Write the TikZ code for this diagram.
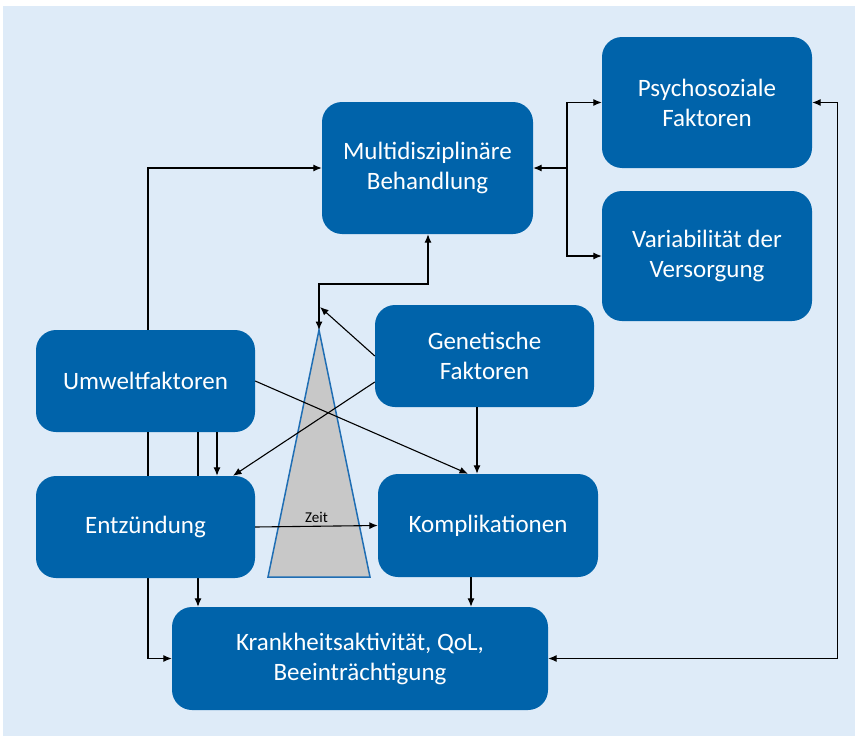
\documentclass[tikz,border=0pt]{standalone}
\usepackage{fontspec}
\setmainfont{Carlito}
\usetikzlibrary{arrows.meta}
\definecolor{bgblue}{RGB}{222,235,248}
\definecolor{boxblue}{RGB}{0,99,170}
\definecolor{edgeblue}{RGB}{31,110,180}
\definecolor{zeitgray}{RGB}{200,200,200}

\begin{document}
\begin{tikzpicture}[x = 1pt, y = -1pt, >={Latex[length=8.5pt, width=7pt]},
	box/.style = {fill = boxblue, text = white, rounded corners = 20pt, align = center,
		inner sep = 0pt, font = \fontsize{25}{30}\selectfont},
	link/.style = {line width = 1.1pt, ->}]
	 \useasboundingbox (0, 0) rectangle (855, 736);
	 \fill[bgblue] (3, 6) rectangle (855, 736);
	 
	 % Zeit
	 \coordinate (apex) at (319, 330);
	 \draw[edgeblue, line width = 1.5pt, fill = zeitgray] (apex) -- (370, 577) -- (268, 577) -- cycle;
	 
	 \node[box, minimum width = 210pt, minimum height = 131pt] (psy) at (707, 102.5) {Psychosoziale\\Faktoren};
	 \node[box, minimum width = 210pt, minimum height = 130pt] (var) at (707, 256) {Variabilität der\\Versorgung};
	 \node[box, minimum width = 211pt, minimum height = 132pt] (multi) at (427.5, 168) {Multidisziplinäre\\Behandlung};
	 \node[box, minimum width = 219pt, minimum height = 102pt] (gen) at (484.5, 356) {Genetische\\Faktoren};
	 \node[box, minimum width = 219pt, minimum height = 102pt] (umw) at (145.5, 381) {Umweltfaktoren};
	 \node[box, minimum width = 220pt, minimum height = 103pt] (kom) at (488, 525.5) {Komplikationen};
	 \node[box, minimum width = 376pt, minimum height = 103pt] (kra) at (360, 658.5) {Krankheitsaktivität, QoL,\\Beeinträchtigung};
	 
	 \coordinate (cA) at (148, 0);
	 \coordinate (cB) at (198, 0);
	 \coordinate (cC) at (217, 0);
	 \coordinate (cD) at (233, 0);
	 \coordinate (cE) at (477, 0);
	 \coordinate (cF) at (471, 0);
	 \coordinate (cG) at (428, 0);
	 \coordinate (cH) at (468, 0);
	 
	 % lines behind Entzuendung
	 \draw[link] (umw.south -| cA) |- (kra.west);
	 \draw[link] (umw.south -| cB) -- (kra.north -| cB);
	 
	 \node[box, minimum width = 219pt, minimum height = 102pt] (ent) at (145.5, 527) {Entzündung};
	 
	 \draw[link] (umw.north -| cA) |- (multi.west);
	 \draw[link] (umw.south -| cC) -- (ent.north -| cC);
	 \draw[link] ([yshift = -26pt]gen.west) -- (ent.north -| cD);
	 \draw[link] (umw.east) -- (kom.north -| cH);
	 \draw[link] (gen.south -| cE) -- (kom.north -| cE);
	 \draw[link] (ent.east) -- node[above, text = black, font = \fontsize{15}{18}\selectfont] {Zeit} (kom.west);
	 \draw[link] (kom.south -| cF) -- (kra.north -| cF);
	 
	 \coordinate (knee) at (319, 284);
	 \draw[line width = 1.1pt, <->] (multi.south -| cG) |- (knee) -- (apex);
	 \coordinate (tip) at (320, 307);
	 \draw[link] (gen.west) -- (tip);
	 
	 \coordinate (branch) at (567, 168);
	 \draw[link] (branch) -- (multi.east);
	 \draw[link] (branch) |- (psy.west);
	 \draw[link] (branch) |- (var.west);
	 
	 \draw[line width = 1.1pt, <->] (psy.east) -- ++(25, 0) |- (kra.east);
\end{tikzpicture}
\end{document}
